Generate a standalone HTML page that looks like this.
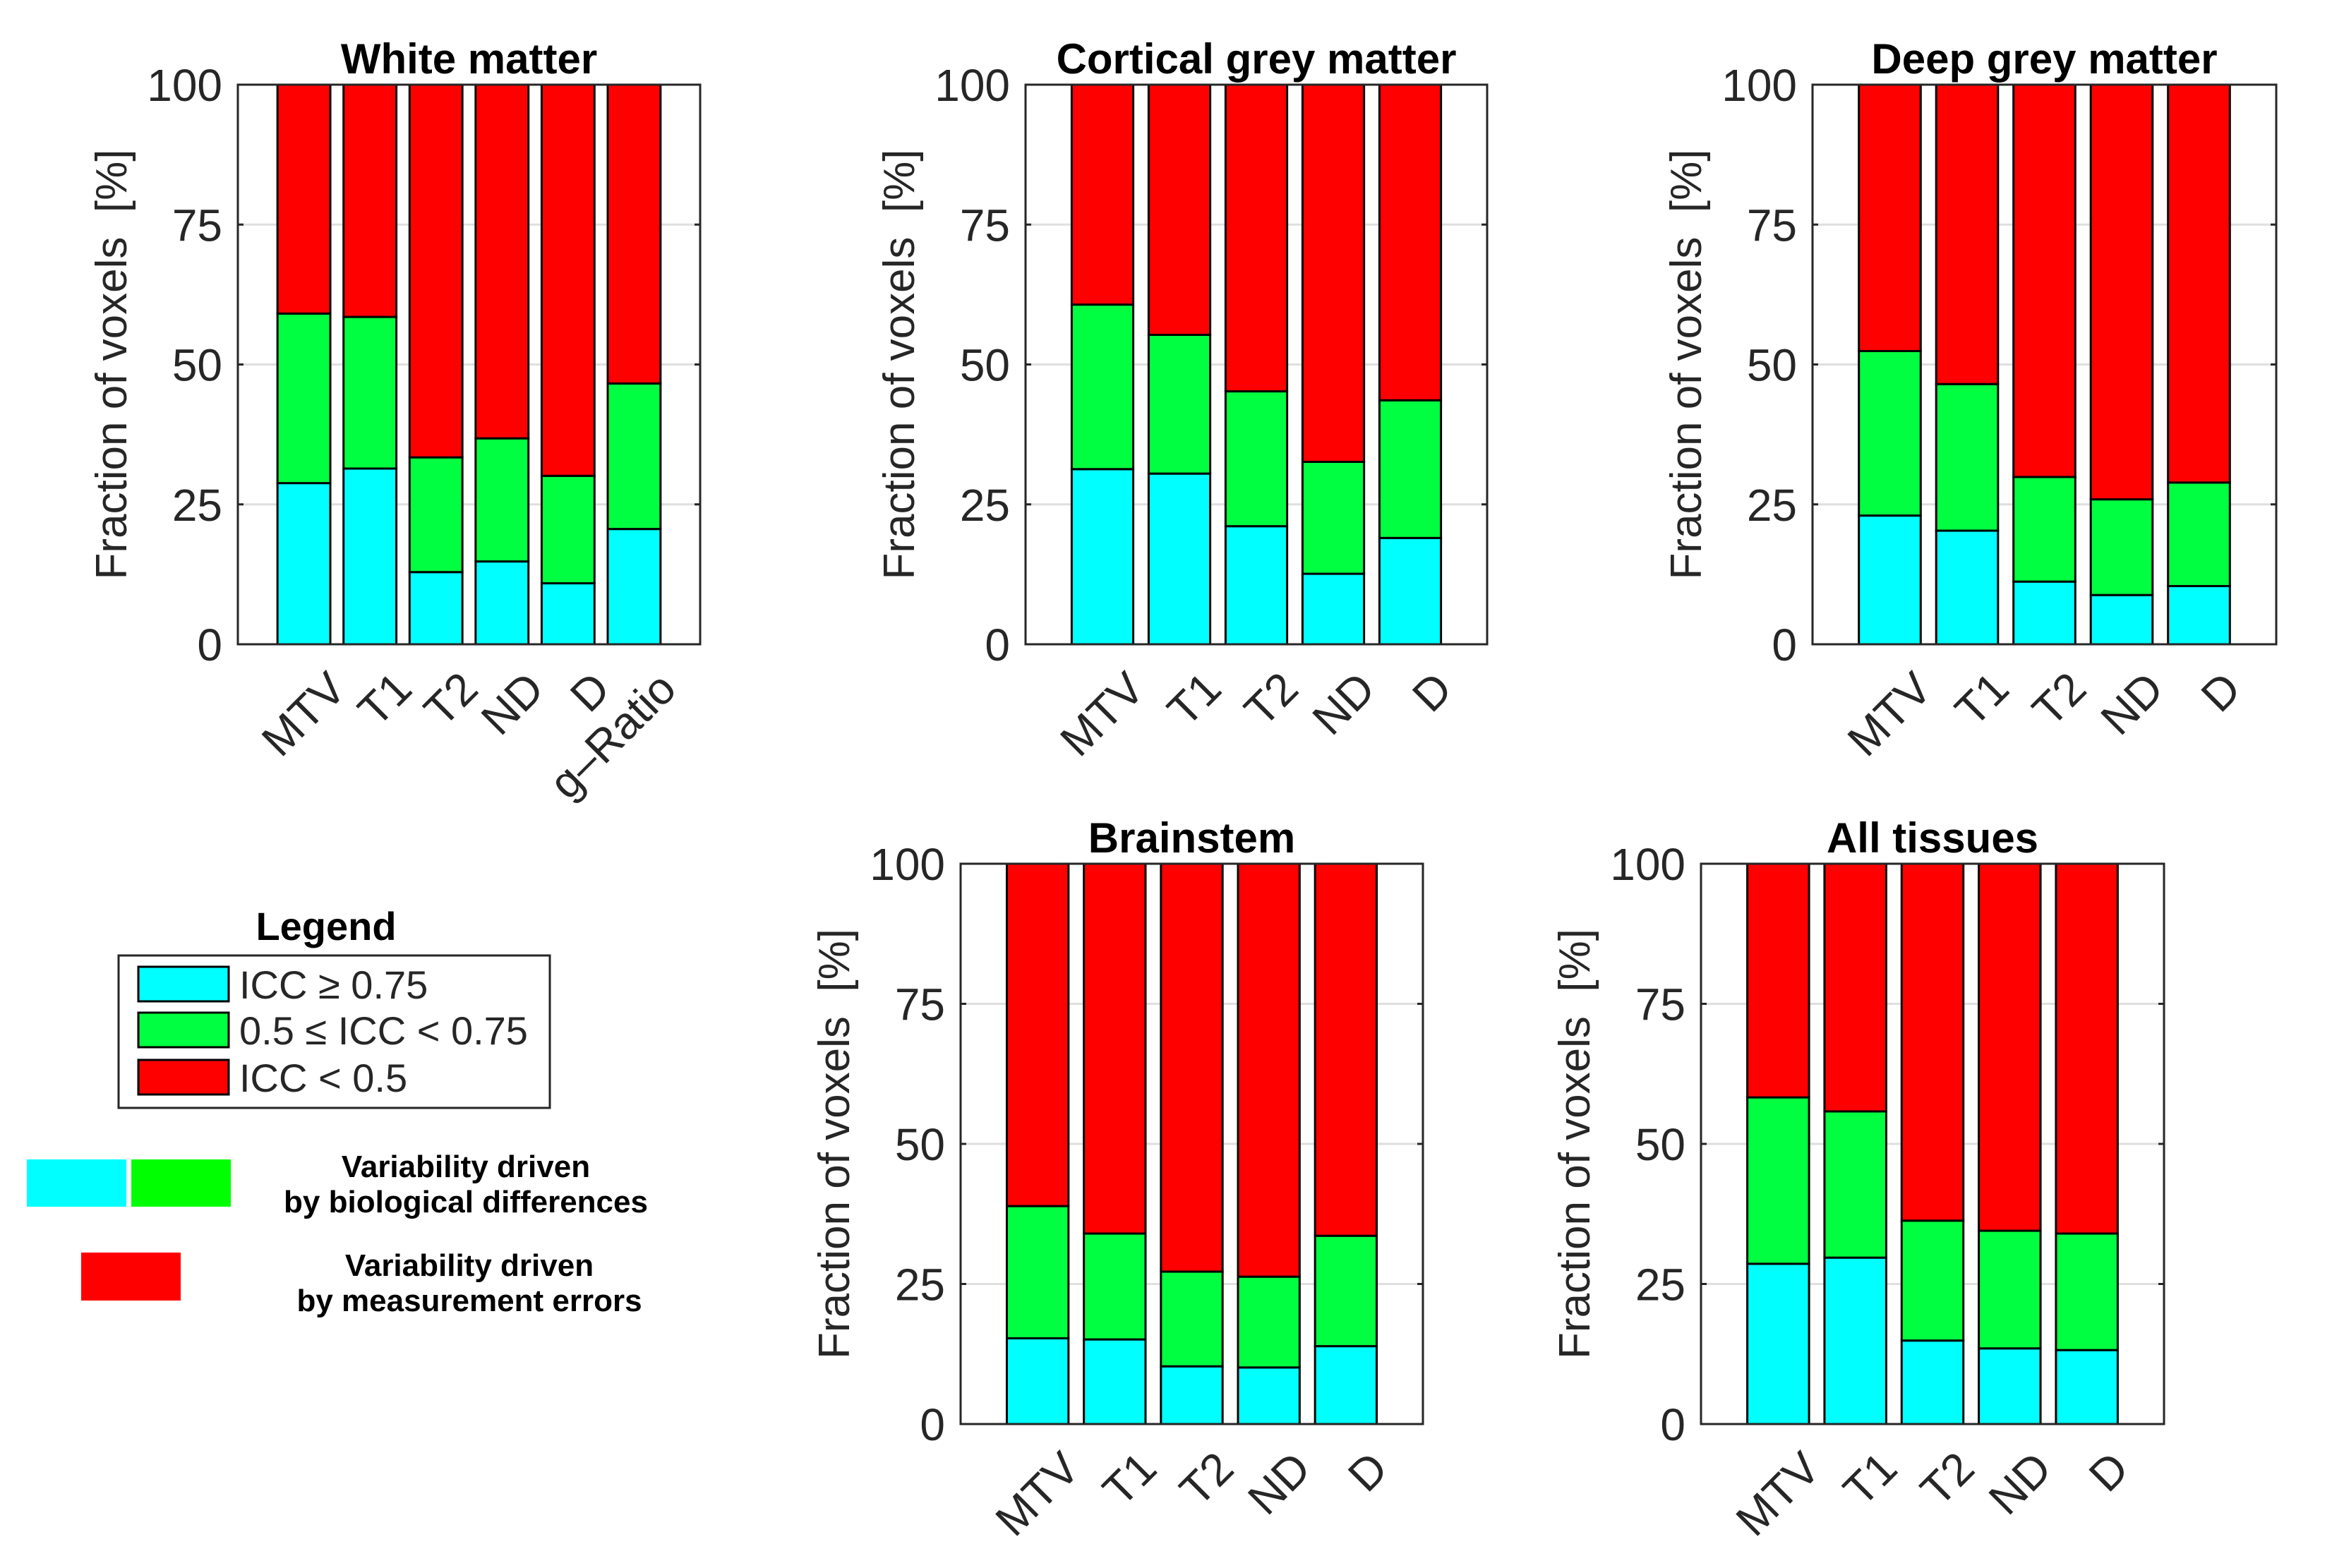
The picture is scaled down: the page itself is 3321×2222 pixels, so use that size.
<!DOCTYPE html>
<html><head><meta charset="utf-8"><style>
html,body{margin:0;padding:0;background:#fff;}
svg{display:block;}
text{font-family:"Liberation Sans",sans-serif;}
</style></head><body>
<svg id="fig" width="3321" height="2222" viewBox="0 0 3321 2222" xmlns="http://www.w3.org/2000/svg">
<rect x="0" y="0" width="3321" height="2222" fill="#fff"/>
<g id="charts"></g>
<g id="legend">
  <text x="462" y="1332" text-anchor="middle" font-size="56" font-weight="bold" fill="#000">Legend</text>
  <rect x="168" y="1354" width="611" height="216" fill="#fff" stroke="#262626" stroke-width="3"/>
  <rect x="196" y="1370" width="128" height="49" fill="#00ffff" stroke="#000" stroke-width="3"/>
  <text x="339" y="1415" font-size="56" fill="#262626">ICC ≥ 0.75</text>
  <rect x="196" y="1435" width="128" height="49" fill="#00ff40" stroke="#000" stroke-width="3"/>
  <text x="339" y="1480" font-size="56" fill="#262626">0.5 ≤ ICC &lt; 0.75</text>
  <rect x="196" y="1502" width="128" height="49" fill="#ff0000" stroke="#000" stroke-width="3"/>
  <text x="339" y="1547" font-size="56" fill="#262626">ICC &lt; 0.5</text>
  <rect x="38" y="1643" width="141" height="67" fill="#00ffff"/>
  <rect x="186" y="1643" width="141" height="67" fill="#00ff00"/>
  <text x="660" y="1668" text-anchor="middle" font-size="44" font-weight="bold" fill="#000"><tspan x="660">Variability driven</tspan><tspan x="660" dy="50">by biological differences</tspan></text>
  <rect x="115" y="1775" width="141" height="68" fill="#ff0000"/>
  <text x="665" y="1808" text-anchor="middle" font-size="44" font-weight="bold" fill="#000"><tspan x="665">Variability driven</tspan><tspan x="665" dy="50">by measurement errors</tspan></text>
</g>
</svg>
<script>
const titles = ["White matter","Cortical grey matter","Deep grey matter","Brainstem","All tissues"];
const catsWM = ["MTV","T1","T2","ND","D","g\u2013Ratio"];
const cats5 = ["MTV","T1","T2","ND","D"];
const highWM = [28.8,31.4,12.9,14.8,10.9,20.6];
const midTopWM = [59.1,58.5,33.4,36.8,30.1,46.6];
const highCGM = [31.3,30.5,21.1,12.6,19.0];
const midTopCGM = [60.7,55.3,45.2,32.6,43.6];
const highDGM = [23.0,20.3,11.2,8.8,10.4];
const midTopDGM = [52.4,46.5,29.9,25.9,28.9];
const highBS = [15.3,15.1,10.3,10.1,13.9];
const midTopBS = [38.9,34.0,27.2,26.3,33.6];
const highAll = [28.6,29.7,14.9,13.5,13.2];
const midTopAll = [58.3,55.8,36.3,34.5,34.0];
const yTicks = [0,25,50,75,100];

const NS = "http://www.w3.org/2000/svg";
const root = document.getElementById('charts');
function mk(tag, attrs, parent){
  const e = document.createElementNS(NS, tag);
  for (const k in attrs) e.setAttribute(k, attrs[k]);
  parent.appendChild(e);
  return e;
}
const panels = [
  {title:titles[0], cats:catsWM, high:highWM, mid:midTopWM, L:337, T:120, W:655, B:913, slug:'white-matter'},
  {title:titles[1], cats:cats5, high:highCGM, mid:midTopCGM, L:1453, T:120, W:654, B:913, slug:'cortical-grey-matter'},
  {title:titles[2], cats:cats5, high:highDGM, mid:midTopDGM, L:2568, T:120, W:657, B:913, slug:'deep-grey-matter'},
  {title:titles[3], cats:cats5, high:highBS, mid:midTopBS, L:1361, T:1224, W:655, B:2018, slug:'brainstem'},
  {title:titles[4], cats:cats5, high:highAll, mid:midTopAll, L:2410, T:1224, W:656, B:2018, slug:'all-tissues'}
];
panels.forEach(p => {
  const g = mk('g', {}, root);
  
  
  const n = p.cats.length;
  const xmax = n + 1;
  const xs = v => p.L + v / xmax * p.W;
  const ys = v => p.B - v / 100 * (p.B - p.T);
  const bw = 0.8 * p.W / xmax;
  yTicks.forEach(t => {
    if (t > 0 && t < 100) {
      const gl = mk('line', {x1:p.L, x2:p.L+p.W, y1:ys(t), y2:ys(t), stroke:'#dfdfdf', 'stroke-width':3}, g);
      
      
    }
  });
  p.cats.forEach((c, i) => {
    const cx = xs(i + 1);
    const segs = [[0, p.high[i], '#00ffff', 'high'], [p.high[i], p.mid[i], '#00ff40', 'mid'], [p.mid[i], 100, '#ff0000', 'low']];
    segs.forEach(s => {
      const r = mk('rect', {x:cx - bw/2, y:ys(s[1]), width:bw, height:ys(s[0]) - ys(s[1]), fill:s[2], stroke:'#000', 'stroke-width':3}, g);
      
      
    });
    const tl = mk('text', {x:cx + 30, y:p.B + 34, 'font-size':64, fill:'#262626', 'text-anchor':'end', 'dominant-baseline':'hanging', transform:'rotate(-45 ' + (cx + 30) + ' ' + (p.B + 34) + ')'}, g);
    tl.textContent = c;
    
    
  });
  const box = mk('rect', {x:p.L, y:p.T, width:p.W, height:p.B - p.T, fill:'none', stroke:'#262626', 'stroke-width':3}, g);
  
  
  yTicks.forEach(t => {
    const y = ys(t);
    const t1 = mk('line', {x1:p.L, x2:p.L+8, y1:y, y2:y, stroke:'#262626', 'stroke-width':3}, g);
    
    
    const t2 = mk('line', {x1:p.L+p.W-8, x2:p.L+p.W, y1:y, y2:y, stroke:'#262626', 'stroke-width':3}, g);
    
    
    const lb = mk('text', {x:p.L - 22, y:y + 23, 'font-size':64, fill:'#262626', 'text-anchor':'end'}, g);
    lb.textContent = String(t);
    
    
  });
  const yl = mk('text', {x:p.L - 158, y:(p.T + p.B)/2, 'font-size':62, fill:'#262626', 'text-anchor':'middle', transform:'rotate(-90 ' + (p.L - 158) + ' ' + ((p.T + p.B)/2) + ')'}, g);
  yl.textContent = 'Fraction of voxels\u00a0\u00a0[%]';
  
  
  const tt = mk('text', {x:p.L + p.W/2, y:p.T - 16, 'font-size':60, 'font-weight':'bold', fill:'#000', 'text-anchor':'middle'}, g);
  tt.textContent = p.title;
  
  
});
</script>
</body></html>
